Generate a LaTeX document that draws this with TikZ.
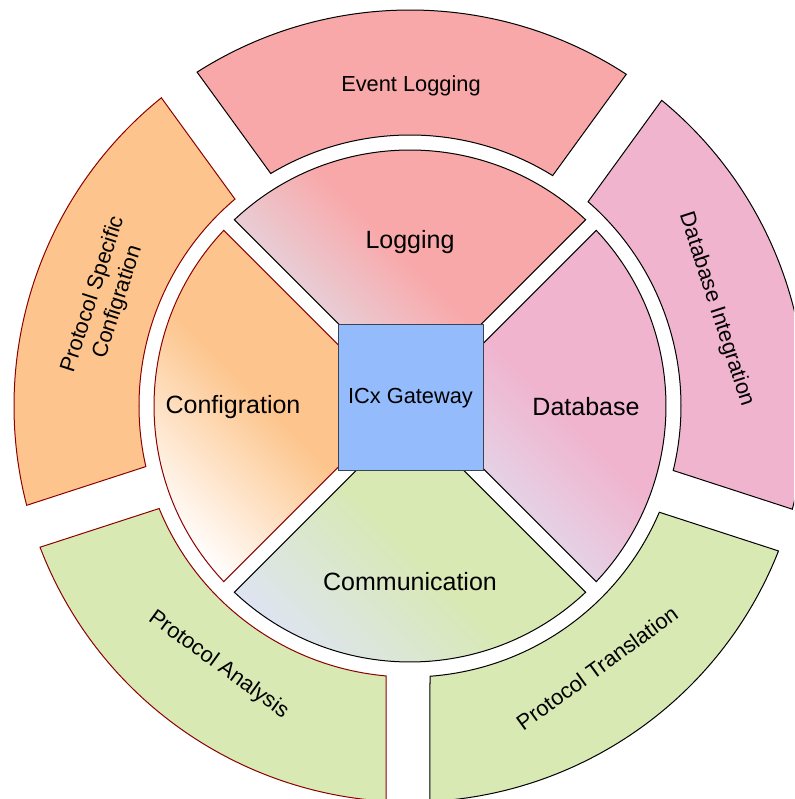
\documentclass[tikz,border=0pt]{standalone}
\usepackage{fontspec}
\setmainfont{Liberation Sans}
\definecolor{pinkA}{RGB}{249,168,169}
\definecolor{pinkB}{RGB}{240,180,207}
\definecolor{greenA}{RGB}{216,233,180}
\definecolor{orangeA}{RGB}{253,197,141}
\definecolor{blueA}{RGB}{148,187,252}
\definecolor{greyblue}{RGB}{222,228,242}
\definecolor{darkred}{RGB}{140,0,0}
\definecolor{sqborder}{RGB}{58,67,80}
\tikzset{
  seg/.style={line width=1pt, line join=miter},
  innerlabel/.style={font=\fontsize{25}{30}\selectfont, inner sep=0pt},
  outerlabel/.style={font=\fontsize{21.8}{26}\selectfont, inner sep=0pt, align=center},
}
\begin{document}
\begin{tikzpicture}[x=1pt,y=1pt]
\useasboundingbox (-410,-393) rectangle (384,406);
\clip (-410,-393) rectangle (384,406);

% ---------- outer ring ----------
% Event Logging (centre 90)
\draw[seg, fill=pinkA, draw=black]
  (56.895:396pt) arc[start angle=56.895, end angle=122.526, radius=396pt]
  -- (120.919:271pt) arc[start angle=120.919, end angle=58.232, radius=271pt] -- cycle;
% Database Integration (centre 18)
\draw[seg, fill=pinkB, draw=black]
  (-15.105:396pt) arc[start angle=-15.105, end angle=50.526, radius=396pt]
  -- (48.919:271pt) arc[start angle=48.919, end angle=-13.768, radius=271pt] -- cycle;
% Protocol Translation (centre -54)
\draw[seg, fill=greenA, draw=black]
  (-87.105:396pt) arc[start angle=-87.105, end angle=-21.474, radius=396pt]
  -- (-23.081:271pt) arc[start angle=-23.081, end angle=-85.768, radius=271pt] -- cycle;
% Protocol Analysis (centre -126)
\draw[seg, fill=greenA, draw=darkred]
  (-159.105:396pt) arc[start angle=-159.105, end angle=-93.474, radius=396pt]
  -- (-95.081:271pt) arc[start angle=-95.081, end angle=-157.768, radius=271pt] -- cycle;
% Protocol Specific Configration (centre 162)
\draw[seg, fill=orangeA, draw=darkred]
  (128.895:396pt) arc[start angle=128.895, end angle=194.526, radius=396pt]
  -- (192.919:271pt) arc[start angle=192.919, end angle=130.232, radius=271pt] -- cycle;

% ---------- inner ring ----------
% Logging
\draw[seg, draw=black, bottom color=greyblue, top color=pinkA, middle color=pinkA, shading angle=-45]
  (0,10.6) -- (46.679:256pt) arc[start angle=46.679, end angle=133.321, radius=256pt] -- cycle;
% Database
\draw[seg, draw=black, bottom color=greyblue, top color=pinkB, middle color=pinkB, shading angle=-45]
  (10.6,0) -- (-43.321:256pt) arc[start angle=-43.321, end angle=43.321, radius=256pt] -- cycle;
% Communication
\draw[seg, draw=black, bottom color=greyblue, top color=greenA, middle color=greenA, shading angle=-45]
  (0,-10.6) -- (226.679:256pt) arc[start angle=226.679, end angle=313.321, radius=256pt] -- cycle;
% Configration
\draw[seg, draw=darkred, bottom color=white, top color=orangeA, middle color=orangeA, shading angle=-45]
  (-10.6,0) -- (136.679:256pt) arc[start angle=136.679, end angle=223.321, radius=256pt] -- cycle;

% ---------- centre ----------
\node[draw=sqborder, fill=blueA, line width=1pt, minimum width=145pt, minimum height=146pt,
      font=\fontsize{21.8}{26}\selectfont, inner sep=0pt] (gw) at (0.5,8) {ICx Gateway};

% ---------- labels ----------
\node[innerlabel] (logging) at (0,164) {Logging};
\node[innerlabel] (database) at (176,-1) {Database};
\node[innerlabel] (communication) at (0,-176) {Communication};
\node[innerlabel] (configration) at (-177,-1) {Configration};

\node[outerlabel] (eventlog) at (1,320) {Event Logging};
\node[outerlabel, rotate=-72] (dbint) at (17.5:321) {Database Integration};
\node[outerlabel, rotate=36] (prottrans) at (-54.5:322) {Protocol Translation};
\node[outerlabel, rotate=-36] (protanal) at (233.5:322) {Protocol Analysis};
\node[outerlabel, rotate=72] (protspec) at (160.5:323) {Protocol Specific\\Configration};
\end{tikzpicture}
\end{document}
